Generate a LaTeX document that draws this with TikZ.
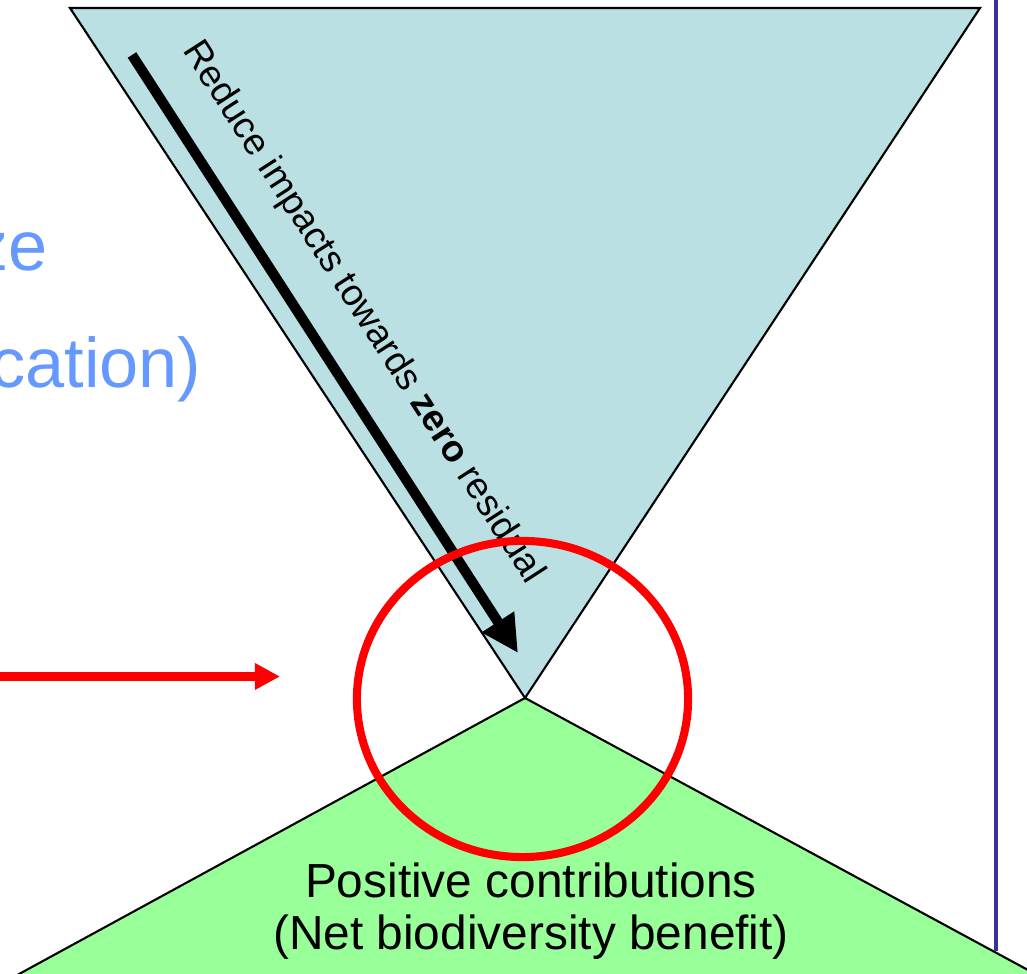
\documentclass[tikz,border=0pt]{standalone}
\usepackage{fontspec}
\setmainfont{Liberation Sans}
\usetikzlibrary{arrows.meta,calc}
\definecolor{cupf}{HTML}{BBE0E3}
\definecolor{cdnf}{HTML}{99FF99}
\definecolor{cred}{HTML}{FF0000}
\definecolor{cword}{HTML}{6699FF}
\definecolor{crule}{HTML}{333399}
\tikzset{
  upt/.style={draw=black,line width=.6pt,fill=cupf,line join=miter},
  dnt/.style={draw=black,line width=.6pt,fill=cdnf,line join=miter},
  ring/.style={draw=cred,line width=2.3pt},
  push/.style={-{Triangle[length=3.7mm,width=3.6mm]},draw=black,line width=2.9pt},
  hint/.style={-{Triangle[length=2.5mm,width=2.5mm]},draw=cred,line width=2.4pt},
  vrule/.style={draw=crule,line width=.9pt},
  lbl/.style={font=\fontsize{10.6}{12}\selectfont,text=black},
  gain/.style={font=\fontsize{13.6}{14.8}\selectfont,align=center,text=black},
  side/.style={font=\fontsize{20}{24}\selectfont,text=cword,inner sep=0pt}
}

\begin{document}
\begin{tikzpicture}[x=0.01cm,y=-0.01cm]
\useasboundingbox (0,0) rectangle (1027,974);
\clip (0,0) rectangle (1027,974);
\coordinate (tl) at (70,8);
\coordinate (tr) at (980,8);
\coordinate (ap) at (525,698);
\coordinate (bl) at (-100,1039);
\coordinate (br) at (1150,1036);

\draw[dnt] (ap) -- (br) -- (bl) -- cycle;
\draw[upt] (tl) -- (tr) -- (ap) -- cycle;
\draw[vrule] (996,-5) -- (996,951);

\node[side,anchor=base east] (w1) at (48,271) {ze};
\node[side,anchor=base east] (w2) at (202,388) {cation)};

\coordinate (a1) at (132,55);
\coordinate (a2) at (518,653);
\draw[push] (a1) -- node[lbl,sloped,above=2mm,pos=.48] (rd) {Reduce impacts towards \textbf{zero} residual} (a2);

\node[gain] (pc) at (531,911) {Positive contributions\\(Net biodiversity benefit)};

\coordinate (h1) at (-10,676.5);
\coordinate (h2) at (280,676.5);
\draw[hint] (h1) -- (h2);

\draw[ring] (522.5,699) ellipse [x radius=1.655cm,y radius=1.58cm];
\end{tikzpicture}
\end{document}
